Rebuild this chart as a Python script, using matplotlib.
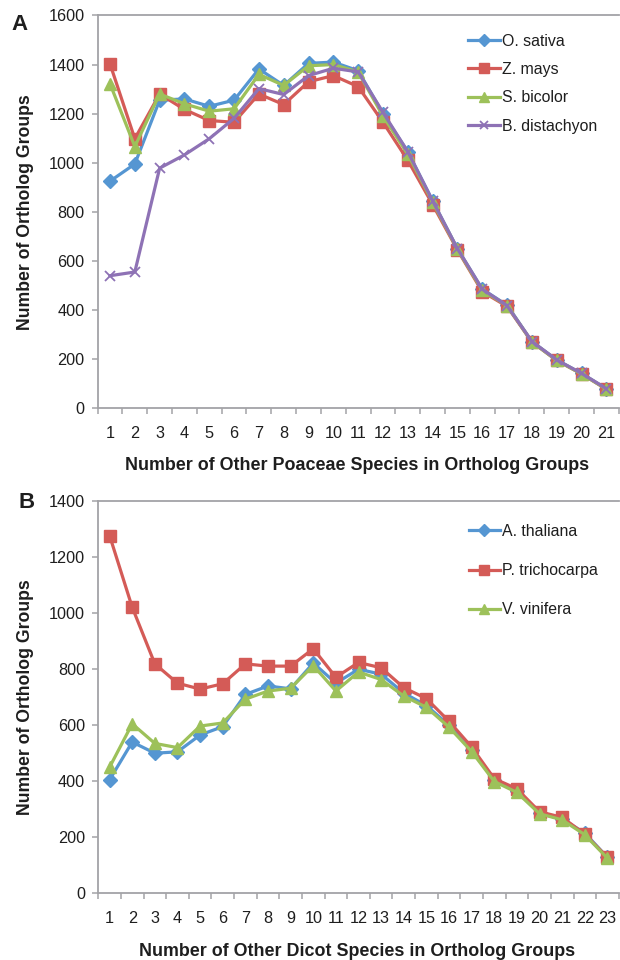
import matplotlib
matplotlib.use("Agg")
import matplotlib.pyplot as plt
import numpy as np

plt.rcParams['font.family'] = ['Liberation Sans', 'DejaVu Sans']

# panel A: other Poaceae species
poaceae_x = list(range(1, 22))
o_sativa = [925, 995, 1255, 1260, 1230, 1255, 1382, 1315, 1405, 1410, 1375,
            1200, 1045, 845, 650, 485, 420, 272, 197, 142, 80]
z_mays = [1403, 1098, 1280, 1217, 1172, 1165, 1280, 1237, 1330, 1355, 1310,
          1165, 1010, 830, 645, 475, 415, 270, 195, 140, 78]
s_bicolor = [1322, 1066, 1280, 1240, 1210, 1220, 1360, 1315, 1395, 1400, 1370,
             1190, 1035, 840, 648, 480, 418, 270, 195, 140, 78]
b_distachyon = [540, 555, 978, 1032, 1098, 1181, 1302, 1278, 1355, 1385, 1370,
                1205, 1045, 845, 650, 485, 418, 272, 197, 142, 80]

# panel B: other dicot species
dicot_x = list(range(1, 24))
a_thaliana = [405, 540, 500, 505, 565, 595, 710, 740, 730, 822, 750, 800, 782,
              715, 670, 600, 510, 405, 365, 285, 265, 215, 128]
p_trichocarpa = [1277, 1021, 819, 750, 729, 748, 819, 811, 811, 873, 771, 824, 805,
                 734, 695, 614, 522, 409, 373, 291, 271, 211, 128]
v_vinifera = [450, 605, 535, 520, 597, 608, 693, 722, 732, 813, 722, 790, 763,
              704, 664, 593, 506, 399, 360, 284, 262, 209, 125]

blue = '#5596D2'
red = '#D45B57'
green = '#9DC15A'
purple = '#8E72B5'
axis_gray = '#A3A3A7'
txt = '#1E1E1E'

fig = plt.figure(figsize=(6.2, 9.6), dpi=100)
axA = fig.add_axes([0.1574, 0.5747, 0.8406, 0.4092])
axB = fig.add_axes([0.1585, 0.0695, 0.8395, 0.4085])


def style_axis(ax, n, ymax, step):
    ax.set_xlim(0.5, n + 0.5)
    ax.set_ylim(0, ymax)
    ax.set_xticks(range(1, n + 1))
    ax.set_xticks(np.arange(0.5, n + 1, 1.0), minor=True)
    ax.set_yticks(range(0, ymax + 1, step))
    ax.tick_params(axis='x', which='major', length=0, pad=12.5, labelsize=11.7,
                   colors=txt)
    ax.tick_params(axis='x', which='minor', length=4, width=1.1, color=axis_gray)
    ax.tick_params(axis='y', length=4.5, width=1.1, color=axis_gray, pad=5,
                   labelsize=11.7, labelcolor=txt)
    for s in ['left', 'bottom', 'top']:
        ax.spines[s].set_color(axis_gray)
        ax.spines[s].set_linewidth(1.3)
    ax.spines['right'].set_visible(False)


def add_legend(ax, y_top, spacing):
    ax.legend(loc='upper left', bbox_to_anchor=(0.7115, y_top), frameon=False,
              numpoints=1, prop={'size': 11.4}, handlelength=2.0,
              handletextpad=0.12, labelspacing=spacing, borderpad=0,
              borderaxespad=0, markerscale=0.85, labelcolor=txt)


lw = 2.3
axA.plot(poaceae_x, o_sativa, color=blue, lw=lw, marker='D', ms=7, label='O. sativa')
axA.plot(poaceae_x, z_mays, color=red, lw=lw, marker='s', ms=8.5, label='Z. mays')
axA.plot(poaceae_x, s_bicolor, color=green, lw=lw, marker='^', ms=9, label='S. bicolor')
axA.plot(poaceae_x, b_distachyon, color=purple, lw=lw, marker='x', ms=7.5, mew=1.3,
         label='B. distachyon')
style_axis(axA, 21, 1600, 200)
axA.set_xlabel('Number of Other Poaceae Species in Ortholog Groups',
               fontsize=12.9, fontweight='bold', color=txt)
axA.set_ylabel('Number of Ortholog Groups', fontsize=12.7, fontweight='bold',
               color=txt)
axA.xaxis.set_label_coords(0.497, -0.124)
axA.yaxis.set_label_coords(-0.122, 0.5)
add_legend(axA, 0.954, 0.85)

axB.plot(dicot_x, a_thaliana, color=blue, lw=lw, marker='D', ms=7, label='A. thaliana')
axB.plot(dicot_x, p_trichocarpa, color=red, lw=lw, marker='s', ms=8.5,
         label='P. trichocarpa')
axB.plot(dicot_x, v_vinifera, color=green, lw=lw, marker='^', ms=9, label='V. vinifera')
style_axis(axB, 23, 1400, 200)
axB.set_xlabel('Number of Other Dicot Species in Ortholog Groups',
               fontsize=12.9, fontweight='bold', color=txt)
axB.set_ylabel('Number of Ortholog Groups', fontsize=12.7, fontweight='bold',
               color=txt)
axB.xaxis.set_label_coords(0.497, -0.127)
axB.yaxis.set_label_coords(-0.123, 0.5)
add_legend(axB, 0.942, 1.53)

fig.text(20 / 620, 1 - 25 / 960, 'A', fontsize=16, fontweight='bold', va='center',
         ha='center', color=txt)
fig.text(27 / 620, 1 - 502 / 960, 'B', fontsize=16, fontweight='bold', va='center',
         ha='center', color=txt)

fig.savefig('out.png', dpi=100)
